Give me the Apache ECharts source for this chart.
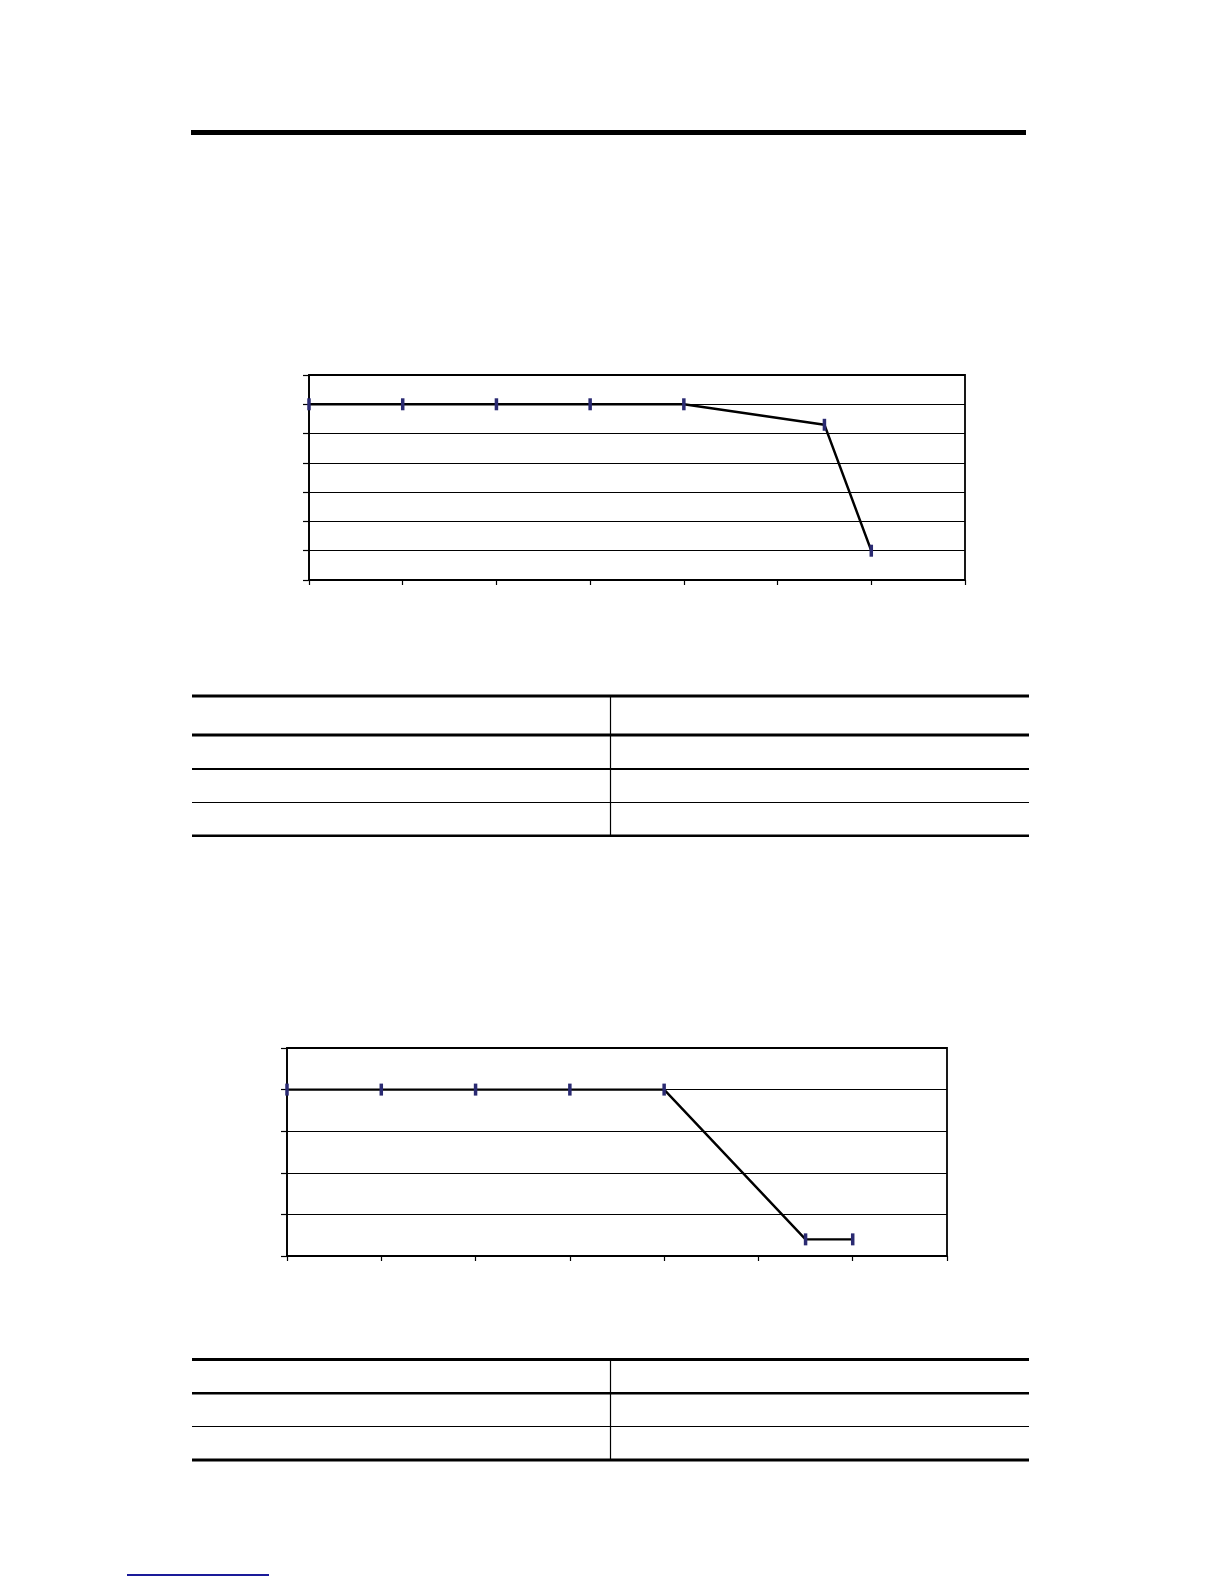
<!DOCTYPE html>
<html>
<head>
<meta charset="utf-8">
<script src="https://cdn.jsdelivr.net/npm/echarts@6/dist/echarts.min.js"></script>
<style>
html,body{margin:0;padding:0;background:#fff;}
#page{width:1224px;height:1584px;}
</style>
</head>
<body>
<div id="page"></div>
<script>
// ---- data ----
var chart1X = [0, 1, 2, 3, 4, 5.5, 6];
var chart1Y = [6, 6, 6, 6, 6, 5.3, 1];
var chart2X = [0, 1, 2, 3, 4, 5.5, 6];
var chart2Y = [4, 4, 4, 4, 4, 0.4, 0.4];
var chart1Range = [0, 7];
var chart1YRange = [0, 7];
var chart2Range = [0, 7];
var chart2YRange = [0, 5];

function pairs(xs, ys) { return xs.map(function (x, i) { return [x, ys[i]]; }); }

var el = document.getElementById('page');
var chart = echarts.init(el, null, { renderer: 'canvas', width: 1224, height: 1584 });

function xAxisCfg(gi, range) {
  return {
    type: 'value', gridIndex: gi, min: range[0], max: range[1], interval: 1,
    axisLabel: { show: false },
    axisLine: { show: true, lineStyle: { color: '#000', width: 1.5 } },
    axisTick: { show: true, inside: false, length: 5, lineStyle: { color: '#000', width: 1.2 } },
    splitLine: { show: false }
  };
}
function yAxisCfg(gi, range) {
  return {
    type: 'value', gridIndex: gi, min: range[0], max: range[1], interval: 1,
    axisLabel: { show: false },
    axisLine: { show: true, lineStyle: { color: '#000', width: 1.5 } },
    axisTick: { show: true, inside: false, length: 6, lineStyle: { color: '#000', width: 1.2 } },
    splitLine: { show: true, lineStyle: { color: '#000', width: 1 } }
  };
}
function lineSeries(gi, data) {
  return {
    type: 'line', xAxisIndex: gi, yAxisIndex: gi, data: data,
    clip: false, silent: true, animation: false,
    lineStyle: { color: '#000', width: 2.4 },
    symbol: 'rect', symbolSize: [3.5, 12],
    itemStyle: { color: '#2a2a72' },
    showSymbol: true
  };
}

function hline(x1, x2, y, w, color) {
  return { type: 'line', shape: { x1: x1, y1: y, x2: x2, y2: y }, style: { stroke: color || '#000', lineWidth: w }, silent: true };
}
function vline(x, y1, y2, w) {
  return { type: 'line', shape: { x1: x, y1: y1, x2: x, y2: y2 }, style: { stroke: '#000', lineWidth: w }, silent: true };
}

var graphics = [
  // top rule
  hline(191, 1026, 132.5, 5),
  // table 1
  hline(192, 1029, 696, 3),
  hline(192, 1029, 735, 3),
  hline(192, 1029, 769, 2),
  hline(192, 1029, 802.5, 1),
  hline(192, 1029, 835.7, 2.5),
  vline(610.5, 696, 835.7, 1.2),
  // table 2
  hline(192, 1029, 1359.5, 3),
  hline(192, 1029, 1393.3, 2.5),
  hline(192, 1029, 1426.5, 1),
  hline(192, 1029, 1460, 3),
  vline(610.5, 1359.5, 1460, 1.2),
  // footnote link rule
  hline(127, 269, 1575, 2, '#1a1a99')
];

chart.setOption({
  animation: false,
  backgroundColor: '#fff',
  grid: [
    { left: 309, top: 375, width: 656, height: 205, show: true, borderColor: '#000', borderWidth: 1.8, backgroundColor: 'transparent' },
    { left: 287, top: 1048, width: 660, height: 208, show: true, borderColor: '#000', borderWidth: 1.8, backgroundColor: 'transparent' }
  ],
  xAxis: [xAxisCfg(0, chart1Range), xAxisCfg(1, chart2Range)],
  yAxis: [yAxisCfg(0, chart1YRange), yAxisCfg(1, chart2YRange)],
  series: [lineSeries(0, pairs(chart1X, chart1Y)), lineSeries(1, pairs(chart2X, chart2Y))],
  graphic: graphics
});
</script>
</body>
</html>
